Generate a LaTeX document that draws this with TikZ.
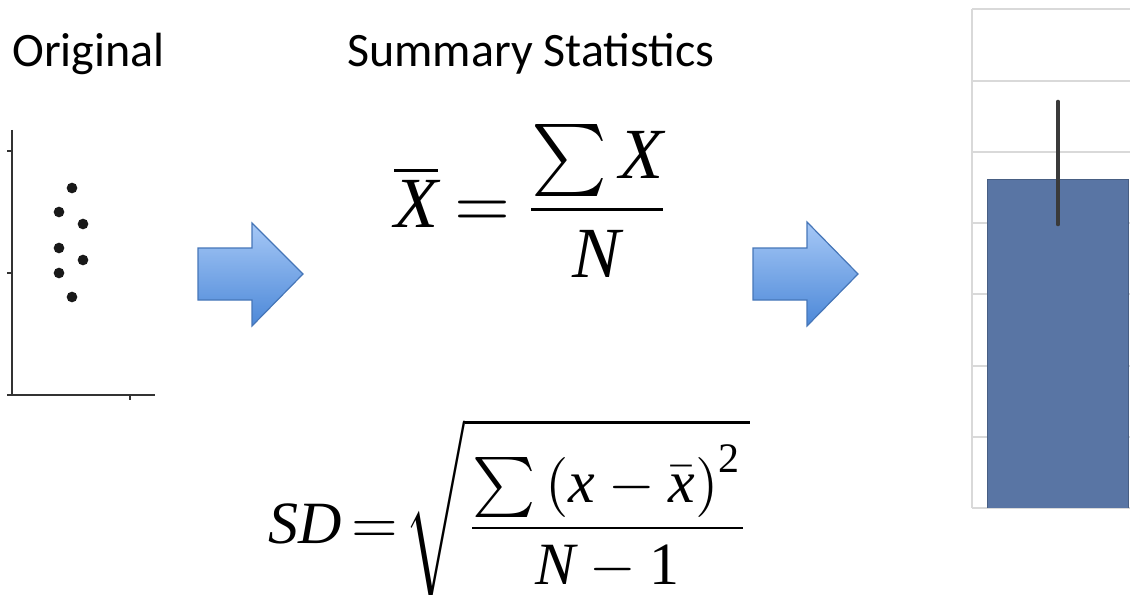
\documentclass[tikz,border=0pt]{standalone}
\usepackage{amsmath}
\usepackage{fontspec}
\setmainfont{Carlito}
\newfontfamily\tms{Liberation Serif}
\newcommand{\tv}[1]{\text{\tms\itshape #1}}
\newcommand{\tu}[1]{\text{\tms #1}}
\definecolor{bargrid}{HTML}{D9D9D9}
\definecolor{barfill}{HTML}{5975A4}
\definecolor{errbar}{HTML}{3A3A3A}
\definecolor{arrtop}{HTML}{A6C8F6}
\definecolor{arrbot}{HTML}{4C88D8}
\definecolor{arredge}{HTML}{4676B8}
\tikzset{
  axisline/.style={draw=black!80, line width=1.2pt},
  dot/.style={circle, fill=black!90, inner sep=0pt, minimum size=8pt},
  title/.style={font=\fontsize{36}{40}\selectfont, anchor=base west, inner sep=0pt},
  bigarrow/.style={top color=arrtop, bottom color=arrbot, draw=arredge, line width=0.9pt, line join=miter},
  grid/.style={draw=bargrid, line width=1.1pt},
  formula/.style={inner sep=0pt, font=\fontsize{10}{12}\selectfont}
}
\begin{document}
\begin{tikzpicture}[x=0.75pt,y=-0.75pt]
\useasboundingbox (0,0) rectangle (1130,595);
% titles
\node[title] (orig) at (12,67) {Original};
\node[title] (summ) at (347,67) {Summary Statistics};
% scatter plot axes
\draw[axisline] (12,130) -- (12,395) -- (155,395);
\draw[axisline] (7,151) -- (12,151);
\draw[axisline] (7,273) -- (12,273);
\draw[axisline] (7,395) -- (12,395);
\draw[axisline] (130,395) -- (130,400);
\node[dot] (d1) at (72,188) {};
\node[dot] (d2) at (59,212) {};
\node[dot] (d3) at (83,224) {};
\node[dot] (d4) at (59,248) {};
\node[dot] (d5) at (83,260) {};
\node[dot] (d6) at (59,273) {};
\node[dot] (d7) at (72,297) {};
% arrows
\path[bigarrow] (198,248) -- (252,248) -- (252,223) -- (303,274) -- (252,326) -- (252,300) -- (198,300) -- cycle;
\path[bigarrow] (753,248) -- (807,248) -- (807,222) -- (858,274) -- (807,326) -- (807,300) -- (753,300) -- cycle;
% formulas
\node[formula, scale=5.4] (mean) at (533,201) {$\displaystyle \overline{\tv{X}}\mkern-1mu=\mkern-2mu\frac{\sum \tv{X}}{\tv{N}}$};
\node[formula, scale=4.5] (sd) at (509,510) {$\displaystyle \tv{SD}\mkern-2mu=\mkern-3mu\sqrt{\frac{\sum\left(\tv{x}-\bar{\tv{x}}\right)^{\tu{2}}}{\tv{N}-\tu{1}}}$};
% bar chart
\foreach \yy in {9,81,152,223,294,366,437,508} \draw[grid] (972,\yy) -- (1130,\yy);
\draw[grid] (972,9) -- (972,508);
\fill[barfill] (987,179) rectangle (1128,508);
\draw[barfill!80!black, line width=0.6pt] (987,508) -- (987,179) -- (1128,179) -- (1128,508);
\draw[errbar, line width=3.5pt, line cap=round] (1058,102) -- (1058,224);
\end{tikzpicture}
\end{document}
